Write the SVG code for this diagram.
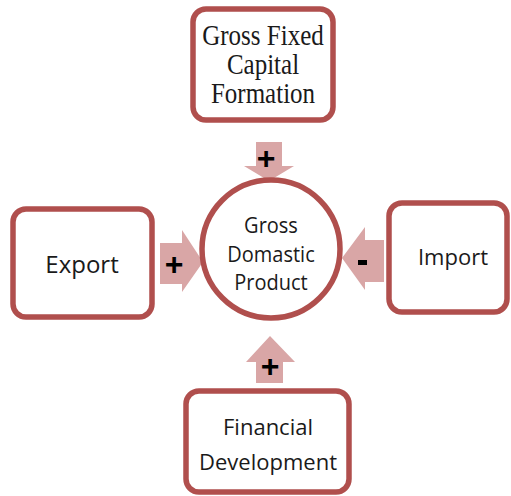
<svg xmlns="http://www.w3.org/2000/svg" width="511" height="496" viewBox="0 0 511 496">
<style>
.box{fill:#fff;stroke:#b04f4d;stroke-width:5.5}
.arr{fill:#d9a6a6}
.sans{font-family:"Open Sans","Liberation Sans",sans-serif;fill:#1a1a1a;text-anchor:middle}
.serif{font-family:"Liberation Serif","Times New Roman",serif;fill:#1a1a1a;text-anchor:middle;font-size:25px}
.sign{font-family:"Liberation Sans",sans-serif;font-weight:bold;fill:#000;text-anchor:middle;font-size:32px}
</style>
<rect width="511" height="496" fill="#fff"/>
<g id="connectors">
<polygon class="arr" points="256,142 282,142 282,166 294,166 269,181 244,166 256,166"/>
<polygon class="arr" points="160,243 182,243 182,230 203,262 182,292 182,284 160,284"/>
<polygon class="arr" points="384,240 365,240 365,227 342,258 365,290 365,282 384,282"/>
<polygon class="arr" points="256,383 283,383 283,362 295,362 270,336 246,362 256,362"/>
<text class="sign" x="266" y="169">+</text>
<text class="sign" x="174" y="275">+</text>
<rect x="358" y="260" width="9" height="5" fill="#000"/>
<text class="sign" x="270" y="377">+</text>
</g>
<g id="gdp">
<circle cx="271" cy="249" r="69" fill="#fff" stroke="#b04f4d" stroke-width="5.5"/>
<text class="sans" font-size="20" transform="translate(271,233) scale(1,1.12)">Gross</text>
<text class="sans" font-size="20" transform="translate(271,262) scale(1,1.12)">Domastic</text>
<text class="sans" font-size="20" transform="translate(271,290) scale(1,1.12)">Product</text>
</g>
<g id="gfcf">
<rect class="box" x="193" y="9" width="140" height="111" rx="13"/>
<text class="serif" transform="translate(263,45) scale(1,1.15)">Gross Fixed</text>
<text class="serif" transform="translate(263,74) scale(1,1.15)">Capital</text>
<text class="serif" transform="translate(263,103) scale(1,1.15)">Formation</text>
</g>
<g id="export">
<rect class="box" x="13" y="209" width="139" height="108" rx="13"/>
<text class="sans" font-size="24" x="82" y="273">Export</text>
</g>
<g id="import">
<rect class="box" x="389" y="203" width="118" height="109" rx="13"/>
<text class="sans" font-size="22" x="453" y="265">Import</text>
</g>
<g id="findev">
<rect class="box" x="186" y="391" width="163" height="101" rx="13"/>
<text class="sans" font-size="22" x="268" y="435">Financial</text>
<text class="sans" font-size="22" x="268" y="470">Development</text>
</g>
</svg>
